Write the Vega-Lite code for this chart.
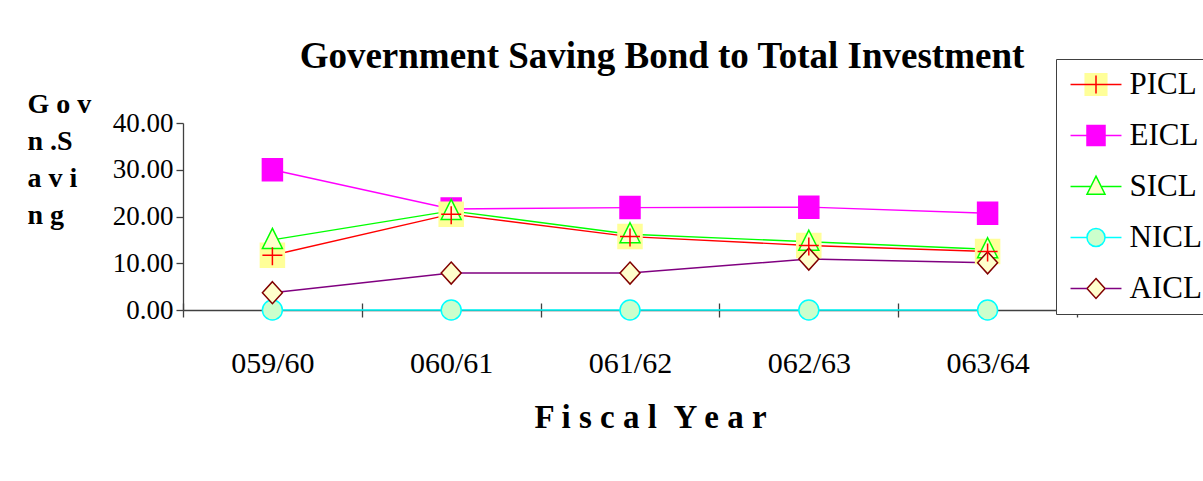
{
  "$schema": "https://vega.github.io/schema/vega-lite/v6.json",
  "width": 894,
  "height": 187,
  "autosize": "none",
  "padding": {"left": 183, "top": 123, "right": 126, "bottom": 171},
  "background": "white",
  "config": {
    "view": {"stroke": null},
    "font": "Liberation Serif"
  },
  "title": {
    "text": "Government Saving Bond to Total Investment",
    "font": "Liberation Serif",
    "fontSize": 37,
    "fontWeight": "bold",
    "color": "black",
    "anchor": "middle",
    "frame": "group",
    "dx": 32,
    "dy": 27,
    "offset": 10
  },
  "data": {
    "values": [
      {"year": "059/60", "series": "EICL", "value": 30.0},
      {"year": "060/61", "series": "EICL", "value": 21.6},
      {"year": "061/62", "series": "EICL", "value": 21.9},
      {"year": "062/63", "series": "EICL", "value": 22.0},
      {"year": "063/64", "series": "EICL", "value": 20.7},
      {"year": "059/60", "series": "PICL", "value": 11.7},
      {"year": "060/61", "series": "PICL", "value": 20.5},
      {"year": "061/62", "series": "PICL", "value": 15.7},
      {"year": "062/63", "series": "PICL", "value": 13.8},
      {"year": "063/64", "series": "PICL", "value": 12.5},
      {"year": "059/60", "series": "SICL", "value": 15.0},
      {"year": "060/61", "series": "SICL", "value": 21.2},
      {"year": "061/62", "series": "SICL", "value": 16.2},
      {"year": "062/63", "series": "SICL", "value": 14.6},
      {"year": "063/64", "series": "SICL", "value": 13.0},
      {"year": "059/60", "series": "NICL", "value": 0},
      {"year": "060/61", "series": "NICL", "value": 0},
      {"year": "061/62", "series": "NICL", "value": 0},
      {"year": "062/63", "series": "NICL", "value": 0},
      {"year": "063/64", "series": "NICL", "value": 0},
      {"year": "059/60", "series": "AICL", "value": 3.7},
      {"year": "060/61", "series": "AICL", "value": 7.9},
      {"year": "061/62", "series": "AICL", "value": 7.9},
      {"year": "062/63", "series": "AICL", "value": 10.9},
      {"year": "063/64", "series": "AICL", "value": 10.1}
    ]
  },
  "resolve": {"axis": {"x": "independent"}},
  "layer": [
    {
      "mark": {"type": "line", "strokeWidth": 1.4},
      "encoding": {
        "x": {
          "field": "year", "type": "nominal",
          "scale": {"type": "band", "paddingInner": 0, "paddingOuter": 0},
          "axis": {
            "title": "F i s c a l \u00a0Y e a r",
            "titleFont": "Liberation Serif", "titleFontSize": 33, "titleFontWeight": "bold", "titleColor": "black",
            "titleX": 467, "titleY": 117, "titleBaseline": "alphabetic", "titleAlign": "center",
            "labelFont": "Liberation Serif", "labelFontSize": 30, "labelColor": "black", "labelAngle": 0,
            "labelPadding": 31, "labelBaseline": "top",
            "tickBand": "extent", "tickSize": 7, "tickColor": "#404040", "tickWidth": 1.3,
            "domainColor": "#404040", "domainWidth": 1.3, "grid": false
          }
        },
        "y": {
          "field": "value", "type": "quantitative",
          "scale": {"domain": [0, 40], "nice": false},
          "axis": {
            "values": [0, 10, 20, 30, 40], "format": ".2f",
            "title": ["G o v", "n .S", "a v i", "n g"],
            "titleFont": "Liberation Serif", "titleFontSize": 28, "titleFontWeight": "bold", "titleColor": "black",
            "titleAngle": 0, "titleAlign": "left", "titleBaseline": "top", "titleX": -156, "titleY": -33, "titleLineHeight": 37,
            "labelFont": "Liberation Serif", "labelFontSize": 27, "labelColor": "black", "labelPadding": 3,
            "tickSize": 7, "tickColor": "#404040", "tickWidth": 1.3,
            "domainColor": "#404040", "domainWidth": 1.3, "grid": false
          }
        },
        "color": {
          "field": "series", "type": "nominal",
          "sort": ["PICL", "EICL", "SICL", "NICL", "AICL"],
          "scale": {"range": ["#FF0000", "#FF00FF", "#00FF00", "#00FFFF", "#800080"]},
          "legend": {
            "orient": "none", "legendX": 873, "legendY": -64, "title": null,
            "labelFont": "Liberation Serif", "labelFontSize": 31, "labelColor": "black",
            "symbolSize": 324, "symbolStrokeWidth": 1.5, "symbolOffset": 14.5, "labelOffset": 18,
            "rowPadding": 19, "padding": 10, "zindex": 2,
            "encode": {"symbols": {"update": {"shape": {"signal": "datum.value === 'PICL' ? 'M-2.83,0H2.83M0,-1V1' : datum.value === 'SICL' ? 'M-2.83,0H-0.6M0.6,0H2.83' : 'M-2.83,0H-1M1,0H2.83'"}}}}
          }
        }
      }
    },
    {
      "mark": {"type": "point", "filled": true, "opacity": 1, "size": 400, "strokeWidth": 1.5},
      "encoding": {
        "x": {
          "field": "year", "type": "nominal",
          "axis": {
            "orient": "bottom", "offset": -7, "domain": false, "labels": false, "title": null,
            "tickBand": "extent", "tickSize": 7, "tickColor": "#404040", "tickWidth": 1.3, "grid": false
          }
        },
        "y": {"field": "value", "type": "quantitative"},
        "shape": {
          "field": "series", "type": "nominal",
          "scale": {
            "domain": ["PICL", "EICL", "SICL", "NICL", "AICL"],
            "range": ["M-1.2,-1.2H1.2V1.2H-1.2Z", "M-1,-1.1H1V1.1H-1Z", "M0,-1.15L1,0.85H-1Z", "circle", "M0,-1.1L1,0L0,1.1L-1,0Z"]
          },
          "legend": {
            "orient": "none", "legendX": 873, "legendY": -64, "title": null,
            "labelFont": "Liberation Serif", "labelFontSize": 31, "labelOpacity": 0,
            "symbolSize": 324, "symbolStrokeWidth": 1.5, "symbolOffset": 14.5, "labelOffset": 18,
            "rowPadding": 19, "padding": 10, "zindex": 1,
            "strokeColor": "#404040", "fillColor": "white"
          }
        },
        "fill": {
          "field": "series", "type": "nominal",
          "scale": {
            "domain": ["PICL", "EICL", "SICL", "NICL", "AICL"],
            "range": ["#FFFF99", "#FF00FF", "#FFFFCC", "#CCFFCC", "#FFFFCC"]
          },
          "legend": {
            "orient": "none", "legendX": 873, "legendY": -64, "title": null,
            "labelFont": "Liberation Serif", "labelFontSize": 31, "labelOpacity": 0,
            "symbolSize": 324, "symbolStrokeWidth": 1.5, "symbolOffset": 14.5, "labelOffset": 18,
            "rowPadding": 19, "padding": 10, "zindex": 1,
            "strokeColor": "#404040", "fillColor": "white"
          }
        },
        "stroke": {
          "field": "series", "type": "nominal",
          "scale": {
            "domain": ["PICL", "EICL", "SICL", "NICL", "AICL"],
            "range": ["#FFFF99", "#FF00FF", "#00FF00", "#00FFFF", "#800000"]
          },
          "legend": {
            "orient": "none", "legendX": 873, "legendY": -64, "title": null,
            "labelFont": "Liberation Serif", "labelFontSize": 31, "labelOpacity": 0,
            "symbolSize": 324, "symbolStrokeWidth": 1.5, "symbolOffset": 14.5, "labelOffset": 18,
            "rowPadding": 19, "padding": 10, "zindex": 1,
            "strokeColor": "#404040", "fillColor": "white"
          }
        }
      }
    },
    {
      "transform": [{"filter": "datum.series === 'PICL'"}],
      "mark": {"type": "point", "filled": false, "opacity": 1, "size": 400, "strokeWidth": 1.5, "color": "#FF0000", "shape": "M0,-0.8V1M-1,0H1"},
      "encoding": {
        "x": {"field": "year", "type": "nominal", "axis": null},
        "y": {"field": "value", "type": "quantitative"}
      }
    }
  ]
}
